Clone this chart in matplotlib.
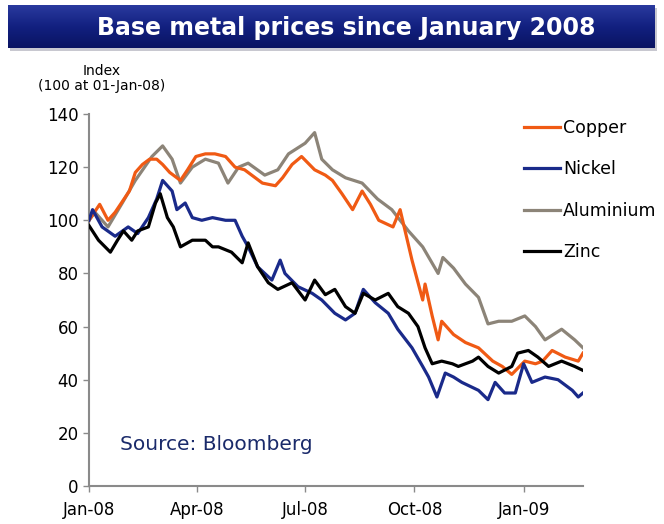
import numpy as np
import matplotlib
matplotlib.use('Agg')
import matplotlib.pyplot as plt
from matplotlib.patches import Rectangle
from matplotlib.colors import LinearSegmentedColormap

# days since 01-Jan-08, index values (100 at 01-Jan-08)
copper_days = [0, 6, 9, 16, 22, 28, 34, 39, 45, 51, 57, 62, 68, 77, 83, 90, 98, 106, 115, 123,
               131, 140, 146, 157, 163, 171, 179, 190, 199, 205, 213, 222, 230, 237, 244, 256, 262, 272, 281, 283,
               289, 294, 297, 307, 317, 328, 340, 348, 356, 367, 376, 382, 390, 401, 412, 416]
copper = [100, 104, 106, 100, 103, 107, 111, 118, 121, 123, 123, 121, 118, 115, 119, 124, 125, 125, 124, 120,
          119, 116, 114, 113, 116, 121, 124, 119, 117, 115, 110, 104, 111, 106, 100, 97.5, 104, 85, 70, 76,
          64, 55, 62, 57, 54, 52, 47, 45, 42, 47, 46, 47, 51, 48.5, 47, 50]

alu_days = [0, 5, 16, 28, 39, 53, 62, 70, 77, 87, 98, 109, 117, 126, 134, 148, 159, 168, 182, 190,
            196, 205, 216, 230, 243, 255, 269, 281, 294, 298, 307, 317, 328, 336, 345, 356, 367, 376, 384, 398,
            409, 416]
aluminium = [100, 103, 97.5, 106.5, 115, 124, 128, 123, 114, 120, 123, 121.5, 114, 120, 121.5, 117, 119, 125, 129, 133,
             123, 119, 116, 114, 108, 104, 96, 90, 80, 86, 82, 76, 71, 61, 62, 62, 64, 60, 55, 59,
             55, 52]

nickel_days = [0, 3, 11, 22, 33, 41, 50, 57, 62, 70, 74, 81, 87, 95, 104, 115, 123, 129, 134, 142,
               154, 161, 165, 176, 188, 196, 207, 216, 224, 231, 241, 252, 260, 272, 281, 286, 293, 300, 307, 314,
               328, 336, 342, 350, 359, 366, 373, 384, 395, 407, 412, 416]
nickel = [100, 104, 97.5, 94, 97.5, 95, 101, 108, 115, 111, 104, 106.5, 101, 100, 101, 100, 100, 94, 90, 82.5,
          77.5, 85, 80, 75, 72.5, 70, 65, 62.5, 65, 74, 69, 65, 59, 52, 45, 41, 33.5, 42.5, 41, 39,
          36, 32.5, 39, 35, 35, 46, 39, 41, 40, 36, 33.5, 35]

zinc_days = [0, 8, 18, 24, 29, 36, 41, 50, 56, 60, 66, 71, 77, 87, 98, 104, 109, 120, 129, 134,
             142, 151, 159, 171, 182, 190, 199, 207, 216, 224, 231, 241, 252, 260, 269, 277, 283, 289, 297, 306,
             311, 323, 328, 336, 345, 356, 361, 370, 378, 387, 398, 409, 416]
zinc = [98, 92.5, 88, 92.5, 96, 92.5, 96, 97.5, 106.5, 110, 101, 97.5, 90, 92.5, 92.5, 90, 90, 88, 84, 91.5,
        82.5, 76.5, 74, 76.5, 70, 77.5, 72, 74, 67.5, 65, 72.5, 70, 72.5, 67.5, 65, 60, 52, 46, 47, 46,
        45, 47, 48.5, 45, 42.5, 45, 50, 51, 48.5, 45, 47, 45, 43.5]

tick_days = [0, 91, 182, 274, 366]
tick_labels = ['Jan-08', 'Apr-08', 'Jul-08', 'Oct-08', 'Jan-09']

plt.rcParams['font.family'] = ['DejaVu Sans']

fig = plt.figure(figsize=(6.64, 5.24), dpi=100)

# title banner with gradient
bax = fig.add_axes([8 / 664, 1 - 48 / 524, 647 / 664, 43 / 524])
grad = np.linspace(0, 1, 100).reshape(-1, 1)
cmap = LinearSegmentedColormap.from_list('banner', ['#2a3a9e', '#122080', '#0a1462'])
bax.imshow(grad, aspect='auto', cmap=cmap, extent=[0, 1, 0, 1])
bax.set_axis_off()
fig.patches.append(Rectangle((10 / 664, 1 - 51 / 524), 647 / 664, 43 / 524, transform=fig.transFigure,
                             facecolor='#c8c8d0', edgecolor='none', zorder=-1))
fig.text(346 / 664, 1 - 28 / 524, 'Base metal prices since January 2008', color='white', fontsize=17,
         fontweight='bold', ha='center', va='center')

ax = fig.add_axes([89 / 664, 1 - 486 / 524, (583 - 89) / 664, (486 - 114) / 524])
ax.plot(alu_days, aluminium, color='#8c8478', lw=2.3, label='Aluminium', zorder=2)
ax.plot(copper_days, copper, color='#f05a14', lw=2.3, label='Copper', zorder=3)
ax.plot(nickel_days, nickel, color='#1a2a8a', lw=2.3, label='Nickel', zorder=4)
ax.plot(zinc_days, zinc, color='black', lw=2.3, label='Zinc', zorder=5)

ax.set_xlim(0, 416)
ax.set_ylim(0, 140)
ax.set_yticks(range(0, 141, 20))
ax.set_xticks(tick_days)
ax.set_xticklabels(tick_labels)
for s in ['top', 'right']:
    ax.spines[s].set_visible(False)
for s in ['left', 'bottom']:
    ax.spines[s].set_color('#8a8a8a')
    ax.spines[s].set_linewidth(1.5)
ax.tick_params(colors='#8a8a8a', length=4, width=1, labelcolor='black', labelsize=12)
ax.tick_params(axis='x', pad=7)

h, l = ax.get_legend_handles_labels()
order = [1, 2, 0, 3]
leg = ax.legend([h[i] for i in order], [l[i] for i in order], loc='upper left',
                bbox_to_anchor=(508 / 664, 1 - 103 / 524), bbox_transform=fig.transFigure,
                frameon=False, fontsize=12.5, handlelength=2.1, handletextpad=0.17, labelspacing=1.36)

fig.text(102 / 664, 1 - 71 / 524, 'Index', fontsize=10, ha='center', va='center')
fig.text(102 / 664, 1 - 86 / 524, '(100 at 01-Jan-08)', fontsize=10, ha='center', va='center')
ax.text(120 / 664, 1 - 445 / 524, 'Source: Bloomberg', transform=fig.transFigure, fontsize=14.5,
        color='#1a2a6a', ha='left', va='center')

fig.savefig('out.png', dpi=100)
